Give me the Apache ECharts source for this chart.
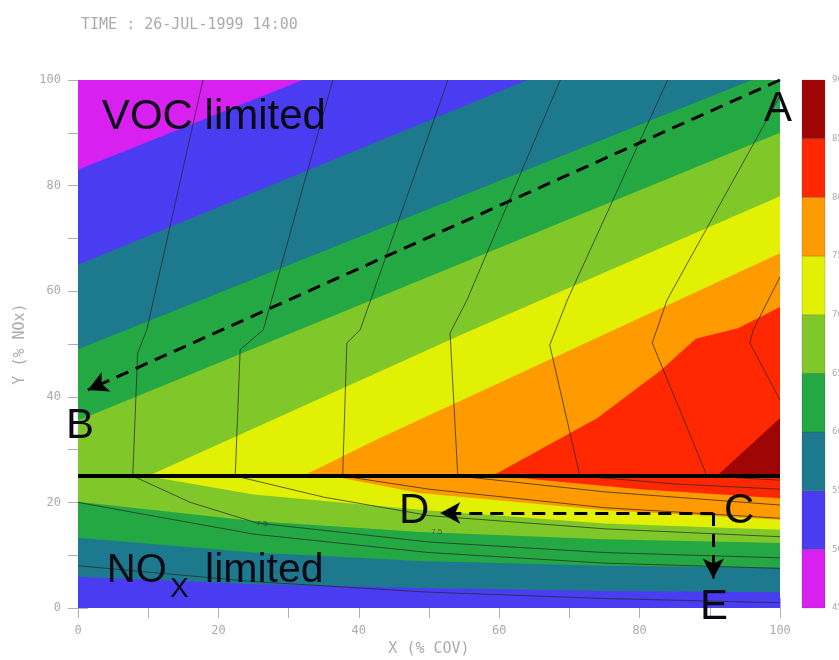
<!DOCTYPE html>
<html>
<head>
<meta charset="utf-8">
<script src="https://cdn.jsdelivr.net/npm/echarts@6/dist/echarts.min.js"></script>
<style>
  html, body { margin: 0; padding: 0; background: #fff; }
  #chart { width: 839px; height: 660px; }
</style>
</head>
<body>
<div id="chart"></div>
<script>
// Ozone isopleth bands (ppb) on the emission-reduction plane
const levels = [45, 50, 55, 60, 65, 70, 75, 80, 85, 90];
const bandColors = ['#d820f0', '#4a3cf0', '#1d7a8e', '#23a843', '#80c82a', '#e2f004', '#ff9a00', '#ff2800', '#a00505'];

// Upper half (Y >= 25): contour of each level, values rise toward the lower right
const upperContours = {
  50: [[0, 83], [32, 100]],
  55: [[0, 65], [64, 100]],
  60: [[0, 49], [96, 100]],
  65: [[0, 35.5], [100, 90]],
  70: [[10, 25], [55, 52], [100, 78]],
  75: [[32, 25], [43, 32.2], [100, 67.2]],
  80: [[59, 25], [74, 36], [83, 45], [88, 51], [94, 53], [100, 57]],
  85: [[91, 25], [100, 36]]
};

// Lower half (Y <= 25): contour of each level, values rise upward
const lowerContours = {
  55: [[0, 5.9], [25, 4.5], [48.7, 3.8], [75, 3.2], [100, 3]],
  60: [[0, 13.3], [25, 10.5], [48.7, 8.9], [75, 8], [100, 7.6]],
  65: [[0, 20.1], [25, 16.5], [48.7, 14.4], [75, 13], [100, 12.3]],
  70: [[9.8, 25], [25, 21.5], [48.7, 18.6], [75, 16], [100, 14.8]],
  75: [[36, 25], [48.7, 21.8], [75, 18.5], [100, 16.7]],
  80: [[60, 25], [80, 22.5], [100, 20.8]]
};

// Thin isolines of the overlaid field
const isolines = [
  [[17.8, 100], [9.8, 52.7], [8.5, 48.3], [7.8, 25], [16, 20], [25.5, 16.1], [50, 12.5], [75, 10.5], [100, 9.5]],
  [[36.3, 100], [26.4, 52.7], [23.1, 48.9], [22.4, 25], [35, 21], [50, 17.5], [75, 15], [100, 13.5]],
  [[52.7, 100], [40.2, 52.7], [38.3, 50.2], [37.7, 25], [50, 22.5], [75, 19], [100, 17]],
  [[68.7, 100], [55.4, 58.3], [53, 52.1], [54.1, 25], [75, 22], [100, 19.5]],
  [[84, 100], [69.7, 58.3], [67.2, 49.8], [71.5, 25], [85, 23.5], [100, 22.5]],
  [[100, 97], [83.9, 58.3], [81.8, 50.2], [89.6, 25], [100, 24.2]],
  [[100, 62.7], [96.2, 52.7], [95.7, 50.2], [100, 39.4]],
  [[0, 20], [25, 14], [50, 10.5], [75, 8.5], [100, 7.5]],
  [[0, 8], [25, 5], [50, 3], [75, 1.8], [100, 1]]
];
const isolineLabels = [
  { text: '7.5', at: [26.2, 15.9] },
  { text: '7.5', at: [51.1, 14.4] }
];

// Regime divider and scenario paths
const dividerY = 25;
const pathAB = [[100, 100], [1.4, 41.3]];
const pathCD = [[90.5, 18], [51.6, 18]];
const pathCE = [[90.5, 18], [90.5, 5.6]];

const annotations = [
  { text: 'VOC limited', at: [3.4, 93], size: 42, align: 'left' },
  { text: 'NO', at: [4.1, 7.0], size: 40, align: 'left' },
  { text: 'X', at: [13.1, 3.6], size: 28, align: 'left' },
  { text: 'limited', at: [18.1, 7.0], size: 41, align: 'left' },
  { text: 'A', at: [99.7, 94.5], size: 42, align: 'center' },
  { text: 'B', at: [0.3, 34.3], size: 42, align: 'center' },
  { text: 'C', at: [94.2, 18.2], size: 42, align: 'center' },
  { text: 'D', at: [47.9, 18.2], size: 42, align: 'center' },
  { text: 'E', at: [90.6, 0.2], size: 42, align: 'center' }
];

// ---- build fill polygons (painter's order, nested regions) ----
function upperRegion(pts) {
  const poly = pts.slice();
  const first = pts[0], last = pts[pts.length - 1];
  if (last[0] === 100 && last[1] < 100) poly.push([100, 100]);
  poly.push([0, 100]);
  if (first[1] === dividerY && first[0] > 0) poly.push([0, dividerY]);
  return poly;
}
function lowerRegion(pts) {
  const poly = pts.slice();
  const first = pts[0];
  poly.push([100, 0], [0, 0]);
  if (first[1] === dividerY && first[0] > 0) poly.push([0, dividerY]);
  return poly;
}
const shapes = [];
shapes.push({ poly: [[0, dividerY], [100, dividerY], [100, 100], [0, 100]], color: bandColors[8] });
[85, 80, 75, 70, 65, 60, 55, 50].forEach(l => {
  shapes.push({ poly: upperRegion(upperContours[l]), color: bandColors[levels.indexOf(l) - 1] });
});
shapes.push({ poly: [[0, 0], [100, 0], [100, dividerY], [0, dividerY]], color: bandColors[7] });
[80, 75, 70, 65, 60, 55].forEach(l => {
  shapes.push({ poly: lowerRegion(lowerContours[l]), color: bandColors[levels.indexOf(l) - 1] });
});

const grayText = '#ababab';
const mono = 'DejaVu Sans Mono';

function frameAxis(type, position, withLabels, name) {
  const ax = {
    type: 'value', gridIndex: 0, position: position, min: 0, max: 100, interval: 10,
    axisLine: { show: false },
    splitLine: { show: false },
    axisTick: { show: true, inside: false, length: 10, lineStyle: { color: '#b0b0b0', width: 1 } },
    axisLabel: {
      show: withLabels, color: grayText, fontFamily: mono, fontSize: 12, margin: 17,
      formatter: v => (v % 20 === 0 ? String(v) : '')
    }
  };
  if (name) {
    ax.name = name;
    ax.nameLocation = 'middle';
    ax.nameTextStyle = { color: grayText, fontFamily: mono, fontSize: 15 };
    ax.nameGap = type === 'x' ? 27 : 50;
  }
  return ax;
}

const chart = echarts.init(document.getElementById('chart'), null, { renderer: 'canvas' });

const isolineSeries = isolines.map(line => ({
  type: 'line', xAxisIndex: 0, yAxisIndex: 0, data: line, symbol: 'none', silent: true,
  lineStyle: { color: '#262626', width: 0.9, opacity: 0.8 }, z: 3
}));

chart.setOption({
  animation: false,
  title: {
    text: 'TIME : 26-JUL-1999 14:00', left: 76, top: 13,
    textStyle: { color: grayText, fontFamily: mono, fontSize: 15, fontWeight: 'normal' }
  },
  grid: [
    { left: 78, top: 80, width: 702, height: 528, outerBoundsMode: 'none', containLabel: false },
    { left: 802, top: 80, width: 23, height: 528, outerBoundsMode: 'none', containLabel: false }
  ],
  xAxis: [
    frameAxis('x', 'bottom', true, 'X (% COV)'),
    frameAxis('x', 'top', false),
    { type: 'value', gridIndex: 1, min: 0, max: 1, show: false }
  ],
  yAxis: [
    frameAxis('y', 'left', true, 'Y (% NOx)'),
    frameAxis('y', 'right', false),
    {
      type: 'value', gridIndex: 1, min: 45, max: 90, interval: 5, position: 'right',
      axisLine: { show: false }, axisTick: { show: false }, splitLine: { show: false },
      axisLabel: { color: grayText, fontFamily: mono, fontSize: 9, margin: 7 }
    }
  ],
  series: [
    {
      type: 'custom', xAxisIndex: 0, yAxisIndex: 0, silent: true, clip: true, z: 1,
      data: shapes.map(s => s.poly[0]),
      renderItem: (params, api) => {
        const s = shapes[params.dataIndex];
        return {
          type: 'polygon',
          shape: { points: s.poly.map(p => api.coord(p)) },
          style: { fill: s.color }
        };
      }
    },
    ...isolineSeries,
    {
      type: 'custom', xAxisIndex: 0, yAxisIndex: 0, silent: true, z: 4,
      data: isolineLabels.map(d => d.at),
      renderItem: (params, api) => {
        const d = isolineLabels[params.dataIndex];
        const p = api.coord(d.at);
        return {
          type: 'text', x: p[0], y: p[1],
          style: { text: d.text, fill: '#333', opacity: 0.7, fontSize: 8, fontFamily: 'Liberation Sans', align: 'center', verticalAlign: 'middle' }
        };
      }
    },
    {
      type: 'line', xAxisIndex: 0, yAxisIndex: 0, silent: true, z: 6,
      data: [[0, dividerY], [100, dividerY]], symbol: 'none',
      lineStyle: { color: '#000', width: 4 },
      markLine: {
        silent: true, animation: false,
        symbol: ['none', 'arrow'], symbolSize: [16, 20],
        label: { show: false },
        lineStyle: { color: '#000', width: 3, type: [13, 8] },
        emphasis: { disabled: true },
        data: [
          [{ coord: pathAB[0] }, { coord: pathAB[1] }],
          [{ coord: pathCD[0] }, { coord: pathCD[1] }],
          [{ coord: pathCE[0] }, { coord: pathCE[1] }]
        ]
      }
    },
    {
      type: 'custom', xAxisIndex: 0, yAxisIndex: 0, silent: true, clip: false, z: 8,
      data: annotations.map(a => a.at),
      renderItem: (params, api) => {
        const a = annotations[params.dataIndex];
        const p = api.coord(a.at);
        return {
          type: 'text', x: p[0], y: p[1],
          style: {
            text: a.text, fill: '#0a0a14', fontSize: a.size, fontFamily: 'Liberation Sans',
            align: a.align, verticalAlign: 'middle'
          }
        };
      }
    },
    {
      type: 'custom', xAxisIndex: 2, yAxisIndex: 2, silent: true, z: 2,
      data: levels.slice(0, -1).map(l => [0, l]),
      renderItem: (params, api) => {
        const lo = levels[params.dataIndex], hi = levels[params.dataIndex + 1];
        const a = api.coord([0, hi]), b = api.coord([1, lo]);
        return {
          type: 'rect',
          shape: { x: a[0], y: a[1], width: b[0] - a[0], height: b[1] - a[1] },
          style: { fill: bandColors[params.dataIndex], stroke: 'rgba(60,60,60,0.35)', lineWidth: 0.6 }
        };
      }
    }
  ]
});
</script>
</body>
</html>
